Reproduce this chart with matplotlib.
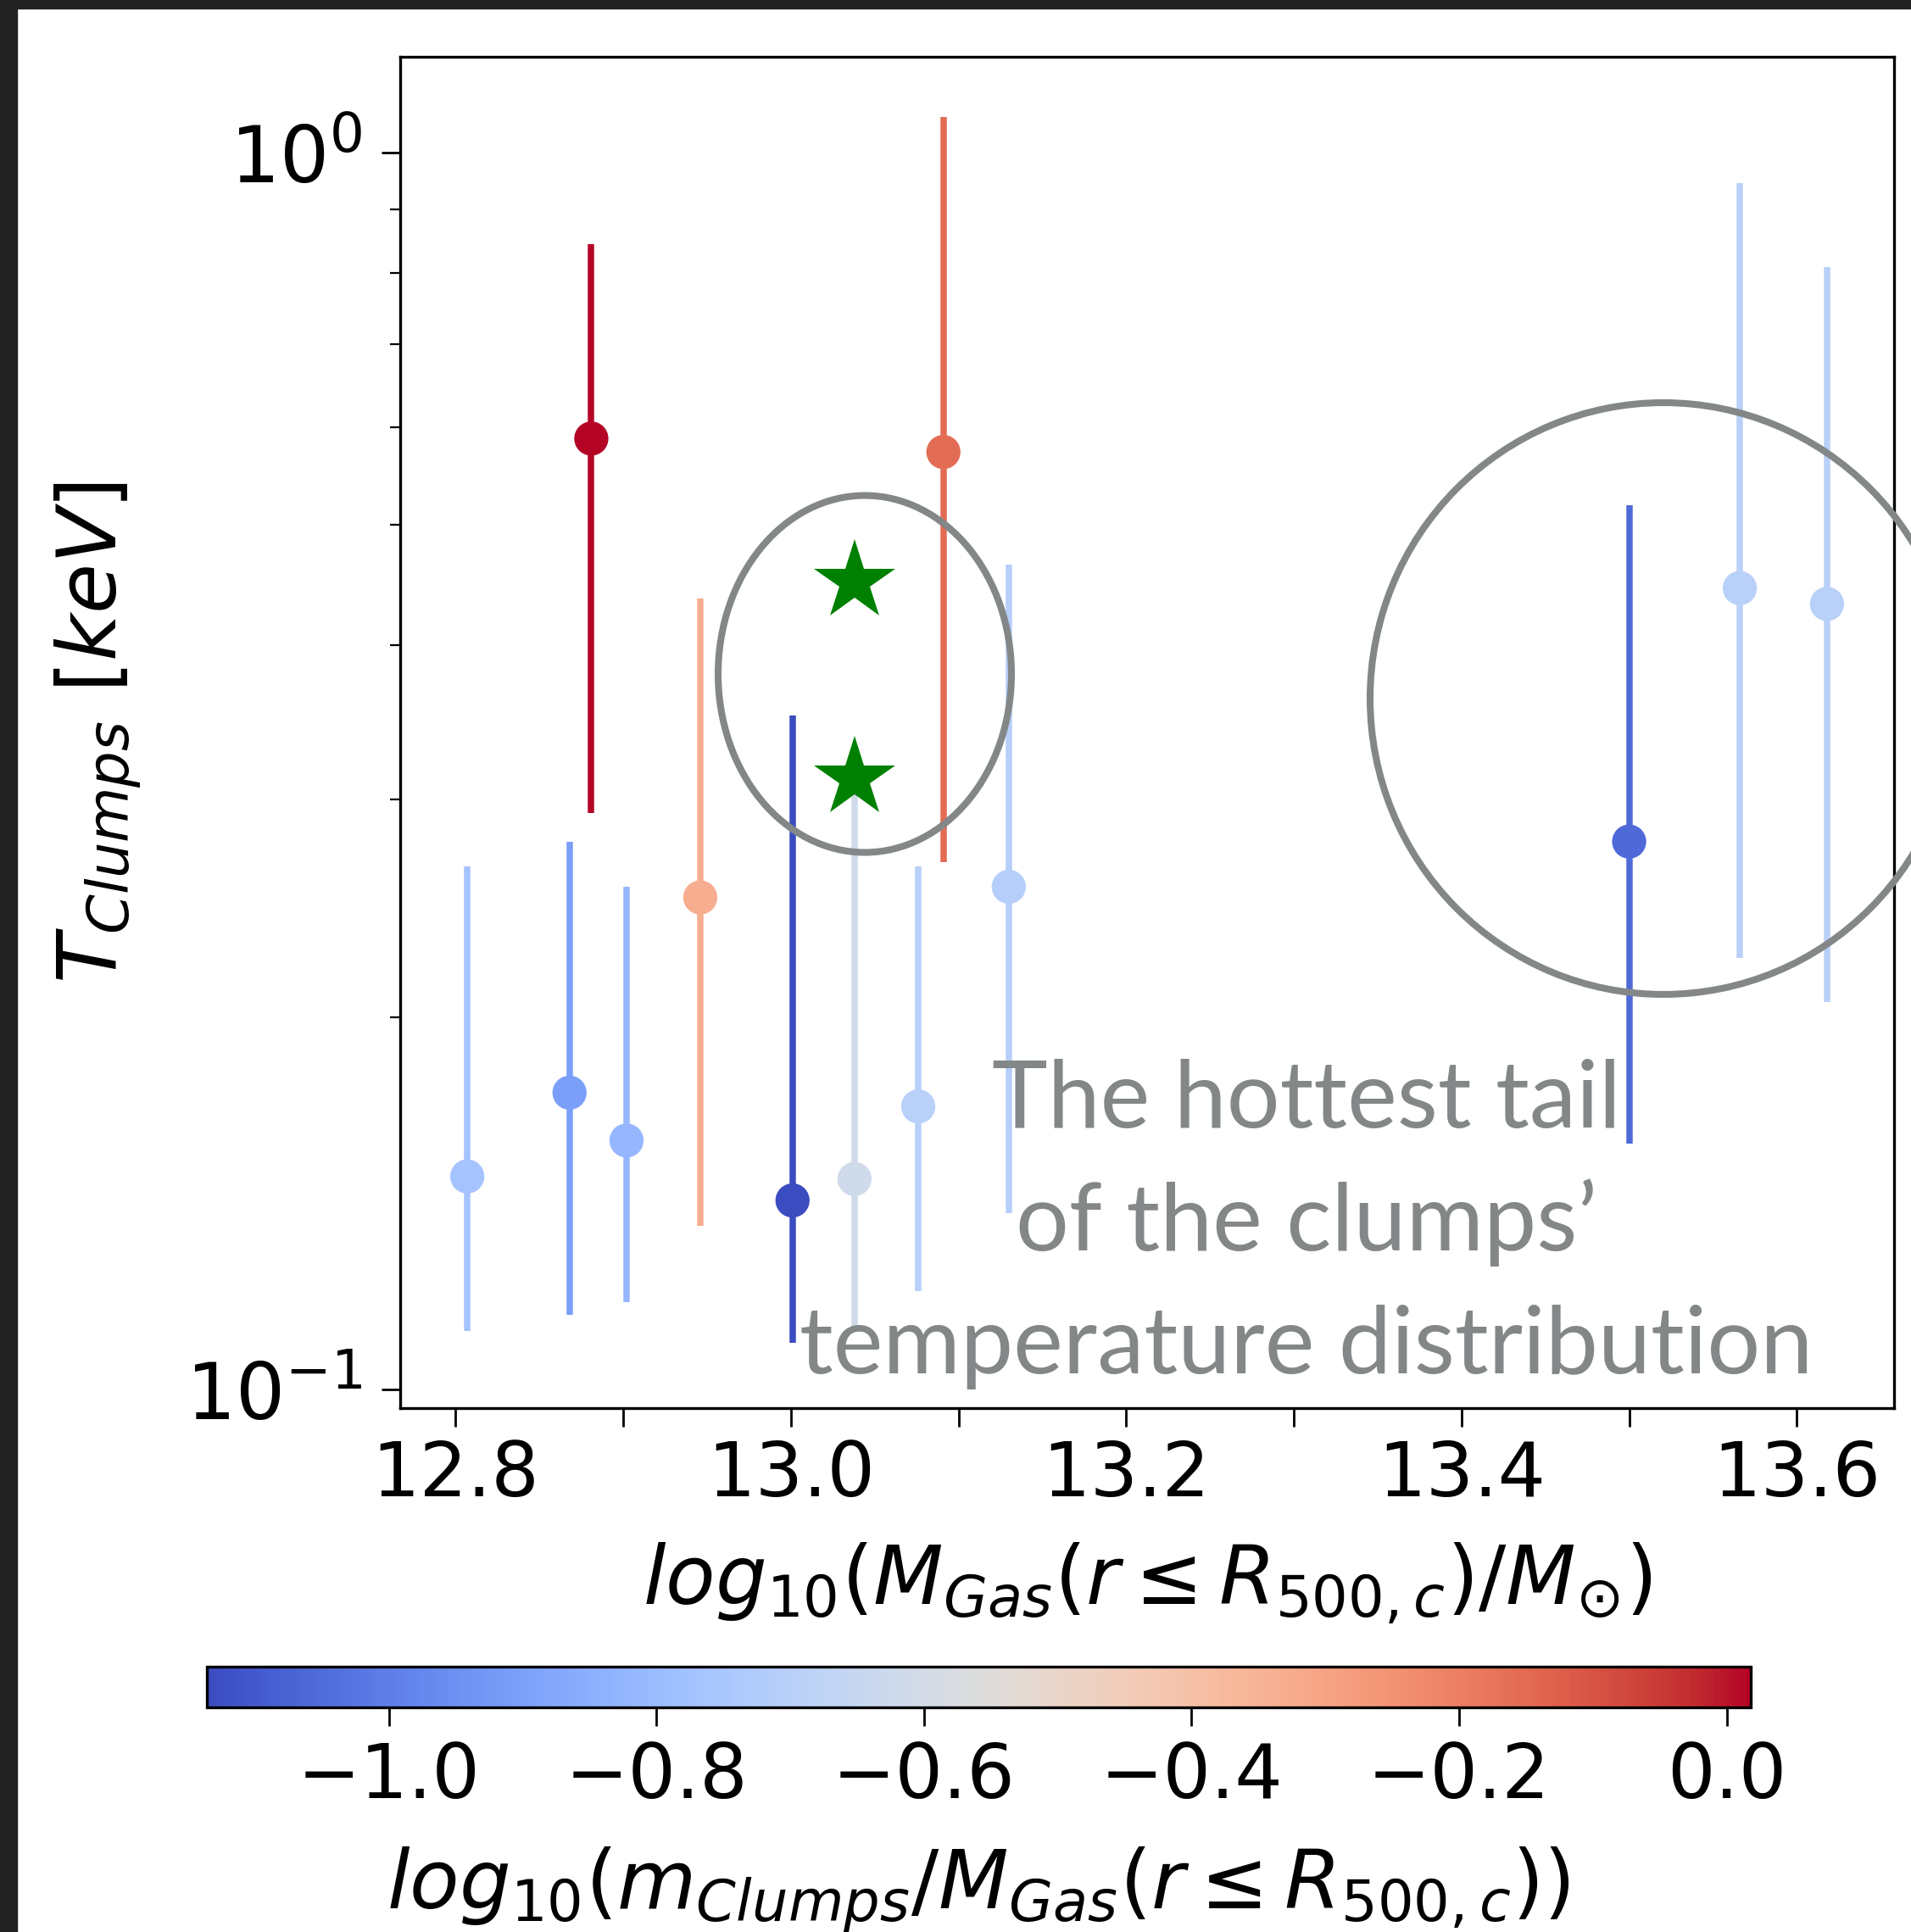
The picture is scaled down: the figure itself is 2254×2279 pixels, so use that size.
import matplotlib
matplotlib.use("Agg")
import matplotlib.pyplot as plt
import numpy as np
from matplotlib.patches import Ellipse, Rectangle
from matplotlib.ticker import MultipleLocator, FuncFormatter, NullFormatter

# dane
m_gas = [12.807, 12.868, 12.881, 12.902, 12.946, 13.001, 13.038, 13.076, 13.091, 13.130, 13.500, 13.566, 13.618]
t_clumps = [0.1487, 0.1738, 0.5875, 0.159, 0.250, 0.1422, 0.148, 0.1694, 0.573, 0.255, 0.2774, 0.4447, 0.4318]
t_low = [0.1116, 0.115, 0.2926, 0.1177, 0.1357, 0.109, 0.1116, 0.1201, 0.2669, 0.1388, 0.158, 0.2232, 0.2058]
t_high = [0.265, 0.2774, 0.844, 0.255, 0.436, 0.351, 0.309, 0.265, 1.069, 0.4647, 0.519, 0.946, 0.809]
frac_clumps = [-0.767, -0.905, 0.018, -0.82, -0.33, -1.136, -0.617, -0.70, -0.155, -0.71, -1.055, -0.70, -0.70]

# gwiazdki (adnotacje)
star_x = [13.038, 13.038]
star_t = [0.450, 0.312]

opis = ["The hottest tail", "of the clumps\u2019", "temperature distribution"]

W, H = 2254, 2279
fig = plt.figure(figsize=(W / 100, H / 100), dpi=100)
fig.patch.set_facecolor("white")

# ciemna ramka zrzutu ekranu
fig.patches.append(Rectangle((0, 1 - 10 / H), 1, 10 / H, transform=fig.transFigure, color="#222222", zorder=0))
fig.patches.append(Rectangle((0, 0), 20 / W, 1, transform=fig.transFigure, color="#222222", zorder=0))

ax = fig.add_axes([472 / W, 1 - 1661 / H, (2234 - 472) / W, (1661 - 67) / H])
cax = fig.add_axes([244 / W, 1 - 2014 / H, (2065 - 244) / W, 48 / H])

cmap = plt.get_cmap("coolwarm")
vmin, vmax = min(frac_clumps), max(frac_clumps)
norm = plt.Normalize(vmin, vmax)

for i in range(len(m_gas)):
    kolor = cmap(norm(frac_clumps[i]))
    yerr = [[t_clumps[i] - t_low[i]], [t_high[i] - t_clumps[i]]]
    ax.errorbar(m_gas[i], t_clumps[i], yerr=yerr, fmt="none", ecolor=kolor, elinewidth=5.4, capsize=0, zorder=2)

sc = ax.scatter(m_gas, t_clumps, c=frac_clumps, cmap=cmap, norm=norm, s=29 ** 2, edgecolors="none", zorder=3)
ax.plot(star_x, star_t, linestyle="none", marker="*", markersize=72, color="green", markeredgewidth=0, zorder=4)

ax.set_yscale("log")
ax.set_xlim(12.767, 13.658)
ax.set_ylim(0.0966, 1.196)
ax.xaxis.set_major_locator(MultipleLocator(0.1))
ax.xaxis.set_major_formatter(FuncFormatter(lambda v, p: "%.1f" % v if int(round(v * 10)) % 2 == 0 else ""))
ax.yaxis.set_minor_formatter(NullFormatter())
ax.tick_params(axis="both", which="major", labelsize=64, length=16, width=2, pad=10)
ax.tick_params(axis="y", which="major", labelsize=66, pad=16)
ax.tick_params(axis="y", which="minor", length=9, width=1.6)
for sp in ax.spines.values():
    sp.set_linewidth(2.4)

ax.set_xlabel(r"$log_{10}(M_{Gas}(r \leq R_{500,c})/M_{\odot})$", fontsize=69, labelpad=24)
ax.set_ylabel(r"$T_{Clumps}\ [keV]$", fontsize=69, labelpad=36)

cb = fig.colorbar(sc, cax=cax, orientation="horizontal")
cb.set_ticks([-1.0, -0.8, -0.6, -0.4, -0.2, 0.0])
cb.ax.xaxis.set_major_formatter(FuncFormatter(lambda v, p: ("%.1f" % v).replace("-", "\u2212")))
cb.ax.tick_params(labelsize=64, length=16, width=2, pad=12)
cb.outline.set_linewidth(2.4)
cb.set_label(r"$log_{10}(m_{Clumps}/M_{Gas}(r \leq R_{500,c}))$", fontsize=69, labelpad=26)

# warstwa z adnotacjami w pikselach
nakl = fig.add_axes([0, 0, 1, 1], facecolor="none")
nakl.set_xlim(0, W)
nakl.set_ylim(H, 0)
nakl.axis("off")
nakl.add_patch(Ellipse((1020, 795), 346, 421, fill=False, edgecolor="#838788", linewidth=5.8))
nakl.add_patch(Ellipse((1962, 824), 692, 698, fill=False, edgecolor="#838788", linewidth=5.8))
for i, linia in enumerate(opis):
    nakl.text(1541, 1330 + i * 145, linia, ha="center", va="baseline", fontsize=80,
              family="Lato", color="#838788")

plt.savefig("out.png", dpi=100)
